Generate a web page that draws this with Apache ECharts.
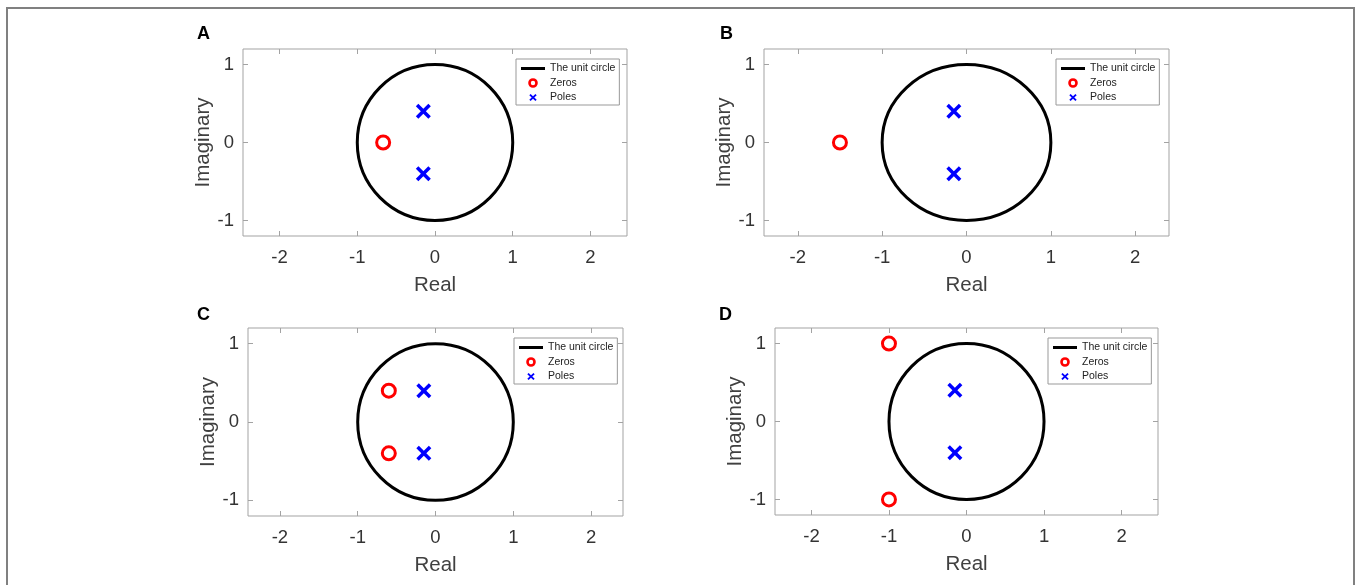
<!DOCTYPE html>
<html><head><meta charset="utf-8">
<script src="https://cdn.jsdelivr.net/npm/echarts@6/dist/echarts.min.js"></script>
<style>html,body{margin:0;padding:0;background:#fff}#c{width:1357px;height:585px}</style>
</head><body><div id="c"></div>
<script>
// ---- data ----
const panelLabels = ['A', 'B', 'C', 'D'];
const xTicks = [-2, -1, 0, 1, 2];
const yTicks = [-1, 0, 1];
const unitCircle = [[0, 0, 1]]; // centre x, centre y, radius
const zerosA = [[-0.667, 0]];
const polesA = [[-0.15, 0.4], [-0.15, -0.4]];
const zerosB = [[-1.5, 0]];
const polesB = [[-0.15, 0.4], [-0.15, -0.4]];
const zerosC = [[-0.6, 0.4], [-0.6, -0.4]];
const polesC = [[-0.15, 0.4], [-0.15, -0.4]];
const zerosD = [[-1, 1], [-1, -1]];
const polesD = [[-0.15, 0.4], [-0.15, -0.4]];
const xRanges = [[-2.47, 2.47], [-2.4, 2.4], [-2.41, 2.41], [-2.47, 2.47]];
const yRange = [-1.2, 1.2];
const legendNames = ['The unit circle', 'Zeros', 'Poles'];
const xName = 'Real';
const yName = 'Imaginary';

// ---- layout / style ----
const FONT = '"Liberation Sans", Arial, sans-serif';
const grids = [
  { left: 243, top: 49, width: 384, height: 187 },
  { left: 764, top: 49, width: 405, height: 187 },
  { left: 248, top: 328, width: 375, height: 188 },
  { left: 775, top: 328, width: 383, height: 187 }
];
const legendPos = [[516, 59], [1056, 59], [514, 338], [1048, 338]];
const titlePos = [[197, 25], [720, 25], [197, 306], [719, 306]];
const zerosAll = [zerosA, zerosB, zerosC, zerosD];
const polesAll = [polesA, polesB, polesC, polesD];

const AX = '#a3a3a3';
const TXT = '#333';
const xPath = 'path://M0,2.5L2.5,0L7.5,5L12.5,0L15,2.5L10,7.5L15,12.5L12.5,15L7.5,10L2.5,15L0,12.5L5,7.5Z';
const legLine = 'path://M0,0M24,7M0,2H24V5H0Z';
const legX = 'path://M0,0M24,7M8.3,1.3L9.6,0L12,2.3L14.4,0L15.7,1.3L13.3,3.5L15.7,5.7L14.4,7L12,4.7L9.6,7L8.3,5.7L10.7,3.5Z';

const xAxes = [], yAxes = [], series = [], legends = [], titles = [];
grids.forEach((g, i) => {
  const [xmin, xmax] = xRanges[i];
  const tick = (vals) => ({ show: true, inside: true, length: 5, customValues: vals, lineStyle: { color: AX, width: 1 } });
  const noLine = { show: false, onZero: false };
  xAxes.push({
    gridIndex: i, type: 'value', position: 'bottom', min: xmin, max: xmax,
    name: xName, nameLocation: 'middle', nameGap: 39,
    nameTextStyle: { fontSize: 20.5, color: '#404040', fontFamily: FONT },
    axisLine: noLine, splitLine: { show: false },
    axisTick: tick(xTicks),
    axisLabel: { customValues: xTicks, fontSize: 18.5, color: TXT, margin: 12, fontFamily: FONT }
  });
  xAxes.push({
    gridIndex: i, type: 'value', position: 'top', min: xmin, max: xmax,
    axisLine: noLine, splitLine: { show: false },
    axisTick: tick(xTicks), axisLabel: { show: false }
  });
  yAxes.push({
    gridIndex: i, type: 'value', position: 'left', min: yRange[0], max: yRange[1],
    name: yName, nameLocation: 'middle', nameGap: 25,
    nameTextStyle: { fontSize: 20.5, color: '#404040', fontFamily: FONT },
    axisLine: noLine, splitLine: { show: false },
    axisTick: tick(yTicks),
    axisLabel: { customValues: yTicks, fontSize: 18.5, color: TXT, margin: 9, fontFamily: FONT }
  });
  yAxes.push({
    gridIndex: i, type: 'value', position: 'right', min: yRange[0], max: yRange[1],
    axisLine: noLine, splitLine: { show: false },
    axisTick: tick(yTicks), axisLabel: { show: false }
  });
  const xi = i * 2, yi = i * 2;
  series.push({
    name: legendNames[0], type: 'custom', xAxisIndex: xi, yAxisIndex: yi,
    data: unitCircle, color: '#000', silent: true,
    renderItem: function (params, api) {
      const c = api.coord([api.value(0), api.value(1)]);
      const s = api.size([api.value(2), api.value(2)]);
      return { type: 'ellipse', shape: { cx: c[0], cy: c[1], rx: s[0], ry: s[1] },
        style: { fill: 'none', stroke: '#000', lineWidth: 3 } };
    }
  });
  series.push({
    name: legendNames[1], type: 'scatter', xAxisIndex: xi, yAxisIndex: yi,
    data: zerosAll[i], symbol: 'circle', symbolSize: 13, silent: true,
    itemStyle: { color: 'rgba(255,255,255,0)', borderColor: '#ff0000', borderWidth: 3, opacity: 1 }
  });
  series.push({
    name: legendNames[2], type: 'scatter', xAxisIndex: xi, yAxisIndex: yi,
    data: polesAll[i], symbol: xPath, symbolSize: 15, silent: true,
    itemStyle: { color: '#0000ff', opacity: 1 }
  });
  legends.push({
    left: legendPos[i][0], top: legendPos[i][1], orient: 'vertical',
    padding: [3, 4, 1, 5], itemWidth: 24, itemHeight: 7, itemGap: 1.5,
    borderColor: '#999', borderWidth: 1, backgroundColor: '#fff', borderRadius: 0,
    selectedMode: false,
    textStyle: { fontSize: 10.5, color: '#222', lineHeight: 13, fontFamily: FONT },
    data: [
      { name: legendNames[0], icon: legLine, itemStyle: { color: '#000', borderWidth: 0 } },
      { name: legendNames[1], icon: 'circle', itemStyle: { color: '#fff', borderColor: '#ff0000', borderWidth: 2.6 } },
      { name: legendNames[2], icon: legX, itemStyle: { color: '#0000ff', borderWidth: 0 } }
    ]
  });
  titles.push({
    text: panelLabels[i], left: titlePos[i][0], top: titlePos[i][1], padding: 0,
    textStyle: { fontSize: 18, fontWeight: 'bold', color: '#000', fontFamily: FONT }
  });
});

const chart = echarts.init(document.getElementById('c'), null, { renderer: 'canvas' });
chart.setOption({
  animation: false,
  backgroundColor: '#fff',
  title: titles,
  grid: grids.map(g => Object.assign({ show: true, borderColor: AX, borderWidth: 1, backgroundColor: 'transparent', containLabel: false }, g)),
  xAxis: xAxes,
  yAxis: yAxes,
  legend: legends,
  series: series,
  graphic: [{
    type: 'rect', silent: true, z: 100,
    shape: { x: 7, y: 8, width: 1347, height: 700 },
    style: { fill: 'none', stroke: '#808080', lineWidth: 2 }
  }]
});
</script>
</body></html>
